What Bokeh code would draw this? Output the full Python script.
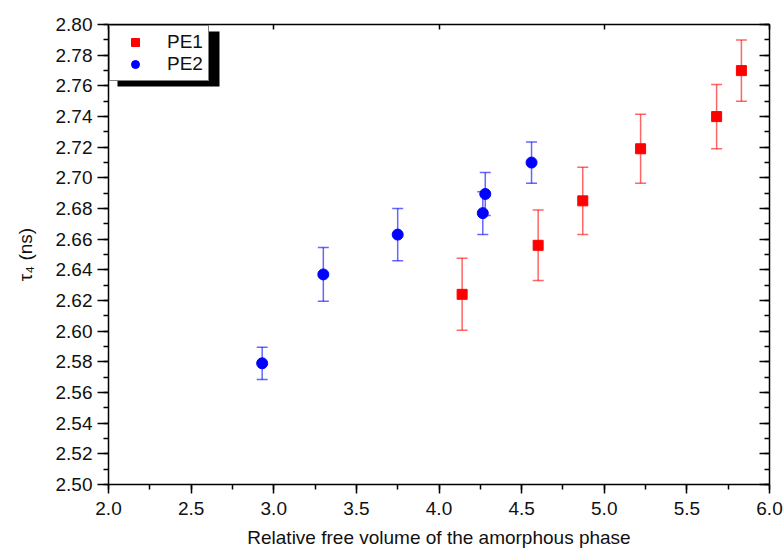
from bokeh.plotting import figure
from bokeh.models import (ColumnDataSource, Whisker, TeeHead, LinearAxis, SingleIntervalTicker,
                          Legend, LegendItem, BoxAnnotation, Range1d, CustomJSTickFormatter)
from bokeh.embed import file_html
from bokeh.resources import INLINE

# ---- data ----
pe1_x = [4.14, 4.60, 4.87, 5.22, 5.68, 5.83]
pe1_y = [2.624, 2.656, 2.685, 2.719, 2.740, 2.770]
pe1_err = [0.0235, 0.023, 0.022, 0.0225, 0.021, 0.020]

pe2_x = [2.93, 3.30, 3.75, 4.265, 4.28, 4.56]
pe2_y = [2.579, 2.637, 2.663, 2.677, 2.6895, 2.710]
pe2_err = [0.0105, 0.0175, 0.017, 0.014, 0.014, 0.0135]

x_label = "Relative free volume of the amorphous phase"
y_label = "τ₄ (ns)"
FONT = "Liberation Sans"
FS = "19px"

p = figure(width=783, height=550, output_backend="svg", toolbar_location=None,
           x_range=Range1d(2.0, 6.0), y_range=Range1d(2.4999, 2.8001),
           min_border_left=108, min_border_right=14, min_border_top=24, min_border_bottom=66)
p.xgrid.visible = False
p.ygrid.visible = False
p.outline_line_color = None
p.background_fill_color = "white"
p.border_fill_color = "white"

def src(x, y, e):
    return ColumnDataSource(dict(x=x, y=y, lo=[a - b for a, b in zip(y, e)],
                                 hi=[a + b for a, b in zip(y, e)]))

s1 = src(pe1_x, pe1_y, pe1_err)
s2 = src(pe2_x, pe2_y, pe2_err)

for s, col in ((s1, "#ff0000"), (s2, "#0000ff")):
    w = Whisker(source=s, base="x", upper="hi", lower="lo", dimension="height",
                line_color=col, line_alpha=0.6, line_width=1.5,
                upper_head=TeeHead(size=11, line_color=col, line_alpha=0.6, line_width=1.5),
                lower_head=TeeHead(size=11, line_color=col, line_alpha=0.6, line_width=1.5))
    p.add_layout(w)

r1 = p.scatter("x", "y", source=s1, marker="square", size=10, color="#ff0000")
r2 = p.scatter("x", "y", source=s2, marker="circle", size=11, color="#0000ff")

def style_axis(ax):
    ax.axis_line_width = 1.5
    ax.axis_line_color = "black"
    ax.major_tick_line_width = 1.5
    ax.minor_tick_line_width = 1.5
    ax.major_tick_line_color = "black"
    ax.minor_tick_line_color = "black"
    ax.major_label_text_font = FONT
    ax.major_label_text_font_size = FS
    ax.major_label_text_color = "#111111"
    ax.axis_label_text_font = FONT
    ax.axis_label_text_font_size = FS
    ax.axis_label_text_font_style = "normal"
    ax.axis_label_text_color = "#111111"

xa = p.xaxis[0]
xa.ticker = SingleIntervalTicker(interval=0.5, num_minor_ticks=2)
style_axis(xa)
xa.major_tick_out = 9
xa.major_tick_in = 0
xa.minor_tick_out = 5
xa.minor_tick_in = 0
xa.major_label_standoff = 8
xa.axis_label = x_label
xa.axis_label_standoff = 9
xa.formatter = CustomJSTickFormatter(code="return tick.toFixed(1);")

ya = p.yaxis[0]
ya.ticker = SingleIntervalTicker(interval=0.02, num_minor_ticks=2)
style_axis(ya)
ya.major_tick_out = 11
ya.major_tick_in = 0
ya.minor_tick_out = 5
ya.minor_tick_in = 0
ya.major_label_standoff = 5
ya.axis_label = y_label
ya.axis_label_standoff = 17
ya.formatter = CustomJSTickFormatter(code="return tick.toFixed(2);")

blank = CustomJSTickFormatter(code="return '';")

top = LinearAxis(ticker=SingleIntervalTicker(interval=1.0, num_minor_ticks=0), formatter=blank)
style_axis(top)
top.major_tick_in = 5
top.major_tick_out = 0
top.minor_tick_in = 0
top.minor_tick_out = 0
top.major_label_standoff = 0
p.add_layout(top, "above")

right = LinearAxis(ticker=SingleIntervalTicker(interval=0.02, num_minor_ticks=2), formatter=blank)
style_axis(right)
right.major_tick_in = 10
right.major_tick_out = 0
right.minor_tick_in = 5
right.minor_tick_out = 0
right.major_label_standoff = 0
p.add_layout(right, "right")

# legend drop shadow
shadow = BoxAnnotation(left=117, right=219, top=31, bottom=86,
                       left_units="canvas", right_units="canvas",
                       top_units="canvas", bottom_units="canvas",
                       fill_color="black", fill_alpha=1.0, line_color=None)
p.add_layout(shadow)

legend = Legend(items=[LegendItem(label="PE1", renderers=[r1]),
                       LegendItem(label="PE2", renderers=[r2])],
                location="top_left", margin=1, padding=5, spacing=0,
                glyph_width=40, glyph_height=20, label_height=22, label_standoff=12,
                label_text_font=FONT, label_text_font_size=FS, label_text_color="#111111",
                border_line_color="black", border_line_width=1.5,
                background_fill_color="white", background_fill_alpha=1.0)
p.add_layout(legend)

open("out.html", "w").write(file_html(p, INLINE))
